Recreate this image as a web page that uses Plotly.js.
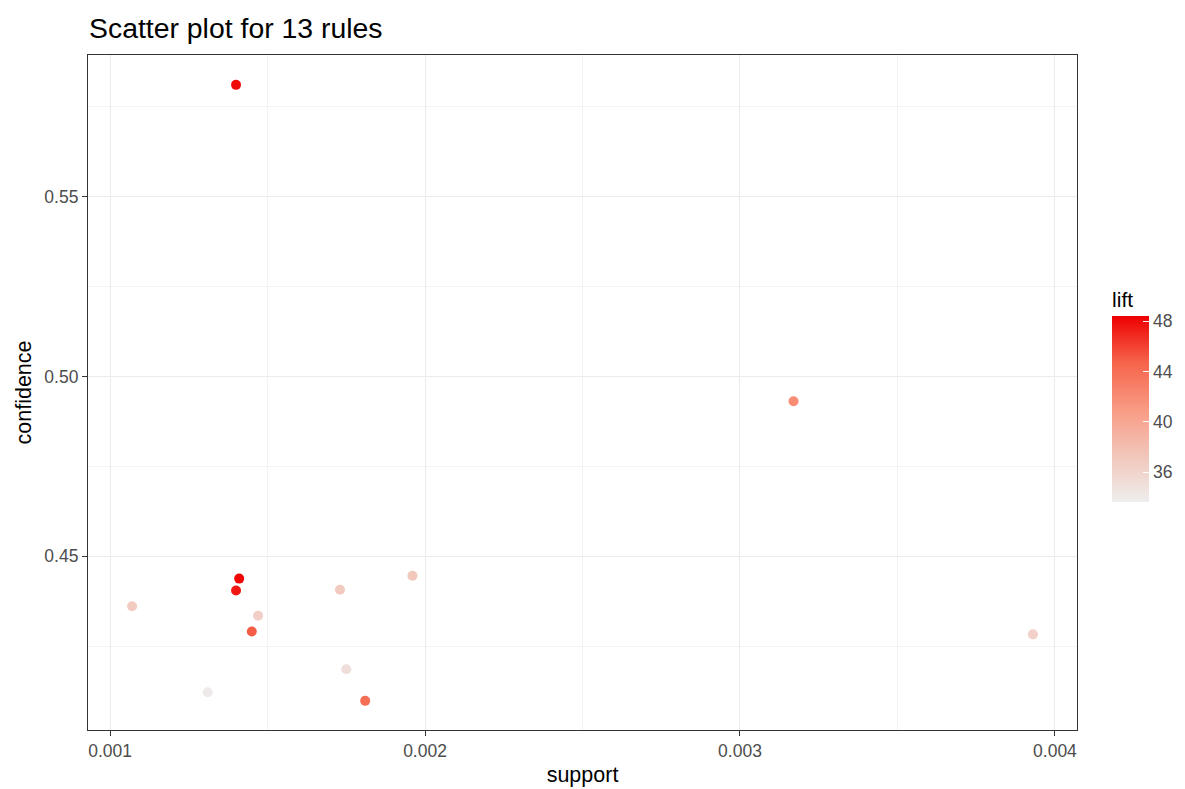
<!DOCTYPE html>
<html>
<head>
<meta charset="utf-8">
<script src="https://cdn.plot.ly/plotly-3.0.1.min.js"></script>
<style>html,body{margin:0;padding:0;background:#fff;}#chart{width:1185px;height:789px;}</style>
</head>
<body>
<div id="chart"></div>
<script>
const support = [0.00140, 0.00317, 0.00141, 0.00140, 0.00107, 0.00147, 0.00145, 0.00173, 0.00196, 0.00175, 0.00131, 0.00181, 0.00393];
const confidence = [0.5811, 0.4931, 0.4438, 0.4405, 0.4361, 0.4335, 0.4291, 0.4407, 0.4446, 0.4186, 0.4122, 0.4098, 0.4283];
const lift = [48.0, 42.0, 48.2, 47.5, 37.0, 36.5, 45.0, 37.0, 37.2, 35.0, 34.0, 44.0, 36.3];
const xTicks = [0.001, 0.002, 0.003, 0.004];
const xTickLabels = ["0.001", "0.002", "0.003", "0.004"];
const yTicks = [0.45, 0.50, 0.55];
const yTickLabels = ["0.45", "0.50", "0.55"];
const liftTicks = [36, 40, 44, 48];

const colorscale = [
  [0, '#EEEEEE'],
  [0.25, '#F2C6BA'],
  [0.5, '#F99A83'],
  [0.75, '#F5644B'],
  [1, '#EE0000']
];

const FONT = 'Liberation Sans, Arial, Helvetica, sans-serif';

const trace = {
  type: 'scatter',
  mode: 'markers',
  x: support,
  y: confidence,
  marker: {
    size: 10,
    color: lift,
    colorscale: colorscale,
    cmin: 33.65,
    cmax: 48.4,
    line: {width: 0},
    colorbar: {
      title: {text: 'lift', side: 'top', font: {family: FONT, size: 21, color: '#000'}},
      x: 1.0355, xanchor: 'left',
      y: 0.3378, yanchor: 'bottom',
      len: 214, lenmode: 'pixels',
      thickness: 37, thicknessmode: 'pixels',
      outlinewidth: 0,
      tickvals: liftTicks,
      ticktext: liftTicks.map(String),
      ticks: 'inside', ticklen: 6, tickcolor: '#ffffff', tickwidth: 1,
      tickfont: {family: FONT, size: 17.5, color: '#4d4d4d'},
      xpad: 0, ypad: 0
    }
  },
  hoverinfo: 'x+y'
};

const gridc = '#ebebeb';
const layout = {
  width: 1185, height: 789,
  margin: {l: 88, r: 108, t: 55, b: 59, autoexpand: false},
  paper_bgcolor: '#fff', plot_bgcolor: '#fff',
  font: {family: FONT},
  title: {text: 'Scatter plot for 13 rules', x: 89/1185, xanchor: 'left', y: 1 - 28/789, yanchor: 'middle',
          font: {size: 28.4, color: '#000'}},
  showlegend: false,
  xaxis: {
    range: [0.00093, 0.00407],
    tickvals: xTicks, ticktext: xTickLabels,
    ticks: 'outside', ticklen: 5, tickcolor: '#333', tickwidth: 1,
    tickfont: {size: 17.5, color: '#4d4d4d'},
    showgrid: true, gridcolor: gridc, gridwidth: 1.4,
    minor: {tickvals: [0.0015, 0.0025, 0.0035], showgrid: true, gridcolor: '#f3f3f3', gridwidth: 1, ticks: ''},
    zeroline: false,
    showline: true, mirror: true, linecolor: '#333', linewidth: 1.2,
    title: {text: 'support', font: {size: 21.5, color: '#000'}, standoff: 6}
  },
  yaxis: {
    range: [0.4017, 0.5894],
    tickvals: yTicks, ticktext: yTickLabels,
    ticks: 'outside', ticklen: 5, tickcolor: '#333', tickwidth: 1,
    tickfont: {size: 17.5, color: '#4d4d4d'},
    showgrid: true, gridcolor: gridc, gridwidth: 1.4,
    minor: {tickvals: [0.425, 0.475, 0.525, 0.575], showgrid: true, gridcolor: '#f3f3f3', gridwidth: 1, ticks: ''},
    zeroline: false,
    showline: true, mirror: true, linecolor: '#333', linewidth: 1.2,
    title: {text: 'confidence', font: {size: 21.5, color: '#000'}, standoff: 6}
  }
};

Plotly.newPlot('chart', [trace], layout, {displayModeBar: false, responsive: false});
</script>
</body>
</html>
